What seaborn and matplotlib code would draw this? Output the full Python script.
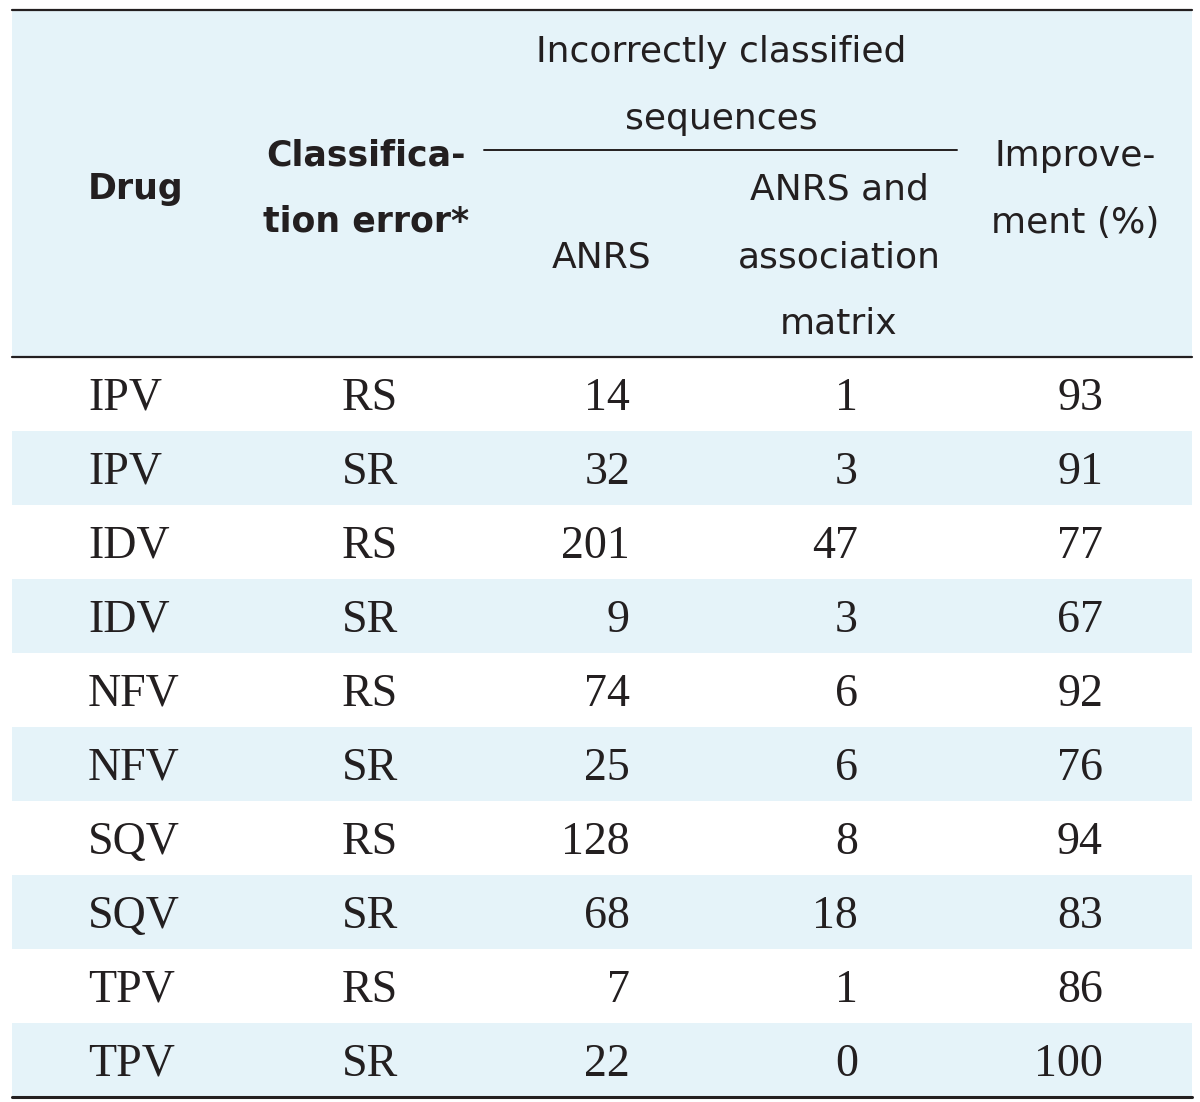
import matplotlib
matplotlib.use('Agg')
import matplotlib.pyplot as plt
import seaborn as sns
import numpy as np
from matplotlib.colors import ListedColormap
from matplotlib.patches import Rectangle

# Table data
DRUGS = ['IPV', 'IPV', 'IDV', 'IDV', 'NFV', 'NFV', 'SQV', 'SQV', 'TPV', 'TPV']
ERRORS = ['RS', 'SR', 'RS', 'SR', 'RS', 'SR', 'RS', 'SR', 'RS', 'SR']
ANRS = [14, 32, 201, 9, 74, 25, 128, 68, 7, 22]
ANRS_MATRIX = [1, 3, 47, 3, 6, 6, 8, 18, 1, 0]
IMPROVEMENT = [93, 91, 77, 67, 92, 76, 94, 83, 86, 100]

BLUE = '#e5f3f9'
INK = '#231f20'
SANS = ['DejaVu Sans Condensed', 'DejaVu Sans']
SERIF = ['Liberation Serif', 'DejaVu Serif']

W, H = 1200, 1102
LEFT, RIGHT = 12, 1192
TOP, HEAD_BOTTOM, BOTTOM = 10, 357, 1097


def main():
    sns.set_theme(style='white')
    plt.rcParams['font.family'] = SANS

    fig = plt.figure(figsize=(W / 100, H / 100), dpi=100)
    fig.patch.set_facecolor('white')

    # striped body rows drawn as a one-column heatmap
    n = len(DRUGS)
    stripes = np.array([[i % 2] for i in range(n)])
    body = fig.add_axes([LEFT / W, (H - BOTTOM) / H,
                         (RIGHT - LEFT) / W, (BOTTOM - HEAD_BOTTOM) / H])
    sns.heatmap(stripes, cmap=ListedColormap(['white', BLUE]), cbar=False,
                xticklabels=False, yticklabels=False, linewidths=0, ax=body)
    body.axis('off')

    # overlay axes in pixel coordinates for header and text
    ax = fig.add_axes([0, 0, 1, 1])
    ax.set_xlim(0, W)
    ax.set_ylim(H, 0)
    ax.axis('off')

    ax.add_patch(Rectangle((LEFT, TOP), RIGHT - LEFT, HEAD_BOTTOM - TOP,
                           facecolor=BLUE, edgecolor='none', zorder=0))
    ax.plot([LEFT, RIGHT], [TOP, TOP], color=INK, lw=1.6)
    ax.plot([LEFT, RIGHT], [HEAD_BOTTOM, HEAD_BOTTOM], color=INK, lw=1.6)
    ax.plot([LEFT, RIGHT], [BOTTOM, BOTTOM], color=INK, lw=2.2)
    ax.plot([484, 957], [150, 150], color=INK, lw=1.4)

    # header
    hs = 26
    bold = dict(ha='left', va='baseline', fontsize=25, fontweight='bold', color=INK)
    ax.text(88, 199, 'Drug', **bold)
    bold['ha'] = 'center'
    ax.text(366, 165, 'Classifica-', **bold)
    ax.text(366, 232, 'tion error*', **bold)
    ax.text(721, 62, 'Incorrectly classified', ha='center', va='baseline',
            fontsize=hs, color=INK)
    ax.text(721, 129, 'sequences', ha='center', va='baseline',
            fontsize=hs, color=INK)
    ax.text(602, 268, 'ANRS', ha='center', va='baseline', fontsize=hs, color=INK)
    ax.text(839, 200, 'ANRS and', ha='center', va='baseline', fontsize=hs, color=INK)
    ax.text(839, 267, 'association', ha='center', va='baseline', fontsize=hs, color=INK)
    ax.text(839, 334, 'matrix', ha='center', va='baseline', fontsize=hs, color=INK)
    ax.text(1075, 166, 'Improve-', ha='center', va='baseline', fontsize=hs, color=INK)
    ax.text(1075, 233, 'ment (%)', ha='center', va='baseline', fontsize=hs, color=INK)

    # body rows
    row_h = (BOTTOM - HEAD_BOTTOM) / n
    bs = 33
    for i in range(n):
        base = HEAD_BOTTOM + row_h * (i + 0.5) + 16
        kw = dict(va='baseline', fontsize=bs, family=SERIF, color=INK)
        ax.text(88, base, DRUGS[i], ha='left', **kw)
        ax.text(370, base, ERRORS[i], ha='center', **kw)
        ax.text(630, base, str(ANRS[i]), ha='right', **kw)
        ax.text(858, base, str(ANRS_MATRIX[i]), ha='right', **kw)
        ax.text(1103, base, str(IMPROVEMENT[i]), ha='right', **kw)

    fig.savefig('out.png', dpi=100)
    plt.close(fig)


if __name__ == '__main__':
    main()
